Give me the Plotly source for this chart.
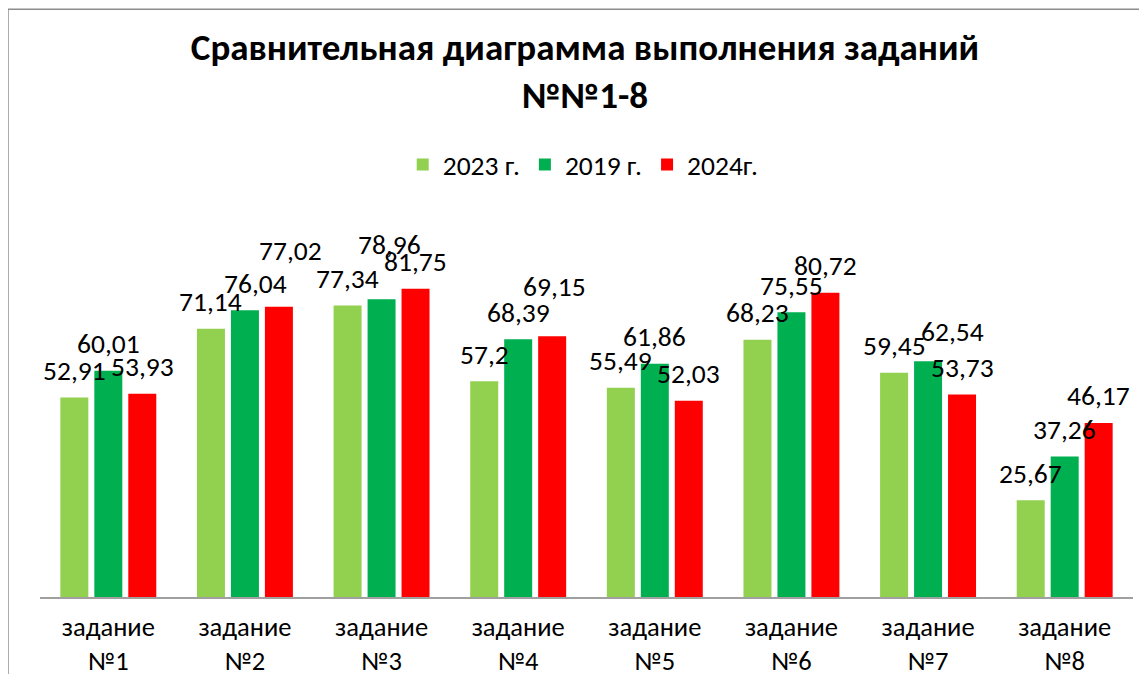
import plotly.graph_objects as go

categories = ["задание<br>№1", "задание<br>№2", "задание<br>№3", "задание<br>№4",
              "задание<br>№5", "задание<br>№6", "задание<br>№7", "задание<br>№8"]
series_names = ["2023 г.", "2019 г.", "2024г."]
values_2023 = [52.91, 71.14, 77.34, 57.2, 55.49, 68.23, 59.45, 25.67]
values_2019 = [60.01, 76.04, 78.96, 68.39, 61.86, 75.55, 62.54, 37.26]
values_2024 = [53.93, 77.02, 81.75, 69.15, 52.03, 80.72, 53.73, 46.17]

colors = ["#92D050", "#00B050", "#FF0000"]
FONT = "Calibri, Carlito, Open Sans, sans-serif"
TXT = 27.5

# manual nudges (px) of some data labels, as in the reference
label_nudge = {(1, 1): (11, 0), (1, 2): (12, 29), (2, 1): (8, 28),
               (3, 2): (2, 23), (6, 1): (24, 2.5)}

bargap = 0.254
bargroupgap = 0.176
slot = (1 - bargap) / 3

xs = list(range(len(categories)))
fig = go.Figure()
all_series = [values_2023, values_2019, values_2024]
for name, vals, col in zip(series_names, all_series, colors):
    fig.add_trace(go.Bar(x=xs, y=vals, name=name, marker_color=col,
                         marker_line_width=0))

annotations = []
for k, vals in enumerate(all_series):
    for i, v in enumerate(vals):
        dx, dy = label_nudge.get((i, k), (0, 0))
        annotations.append(dict(
            x=i + (k - 1) * slot, y=v, xref="x", yref="y",
            text=f"{v:g}".replace(".", ","), showarrow=False,
            xanchor="center", yanchor="middle",
            xshift=dx, yshift=27 + dy,
            font=dict(family=FONT, size=TXT, color="#000000")))

W, H = 1139, 666
frame = dict(color="#8c8c8c", width=1.5)
fig.update_layout(
    width=W, height=H,
    margin=dict(l=32, r=14, t=212, b=77, autoexpand=False),
    paper_bgcolor="white", plot_bgcolor="white",
    barmode="group", bargap=bargap, bargroupgap=bargroupgap,
    title=dict(text="<b>Сравнительная диаграмма выполнения заданий<br>№№1-8</b>",
               x=(585 - 8) / W, xanchor="center", y=1 - 52 / H, yanchor="top",
               yref="container",
               font=dict(family=FONT, size=37, color="#000000")),
    legend=dict(orientation="h", x=0.497, xanchor="center", y=1.147, yanchor="middle",
                font=dict(family=FONT, size=TXT, color="#000000"),
                bgcolor="rgba(0,0,0,0)"),
    xaxis=dict(tickvals=xs, ticktext=categories, range=[-0.5, 7.5],
               showline=True, linecolor="#a0a0a0", linewidth=1.5,
               showgrid=False, zeroline=False, ticks="",
               ticklabelstandoff=5,
               tickfont=dict(family=FONT, size=26.5, color="#000000"),
               automargin=False),
    yaxis=dict(range=[0, 100], visible=False, showgrid=False, zeroline=False),
    annotations=annotations,
    shapes=[dict(type="line", xref="paper", yref="paper",
                 x0=-0.0293, x1=1.2, y0=1.559, y1=1.559, line=frame, layer="above"),
            dict(type="line", xref="paper", yref="paper",
                 x0=-0.0293, x1=-0.0293, y0=-0.5, y1=1.559, line=frame, layer="above")],
    showlegend=True,
)

fig.write_html("out.html")
